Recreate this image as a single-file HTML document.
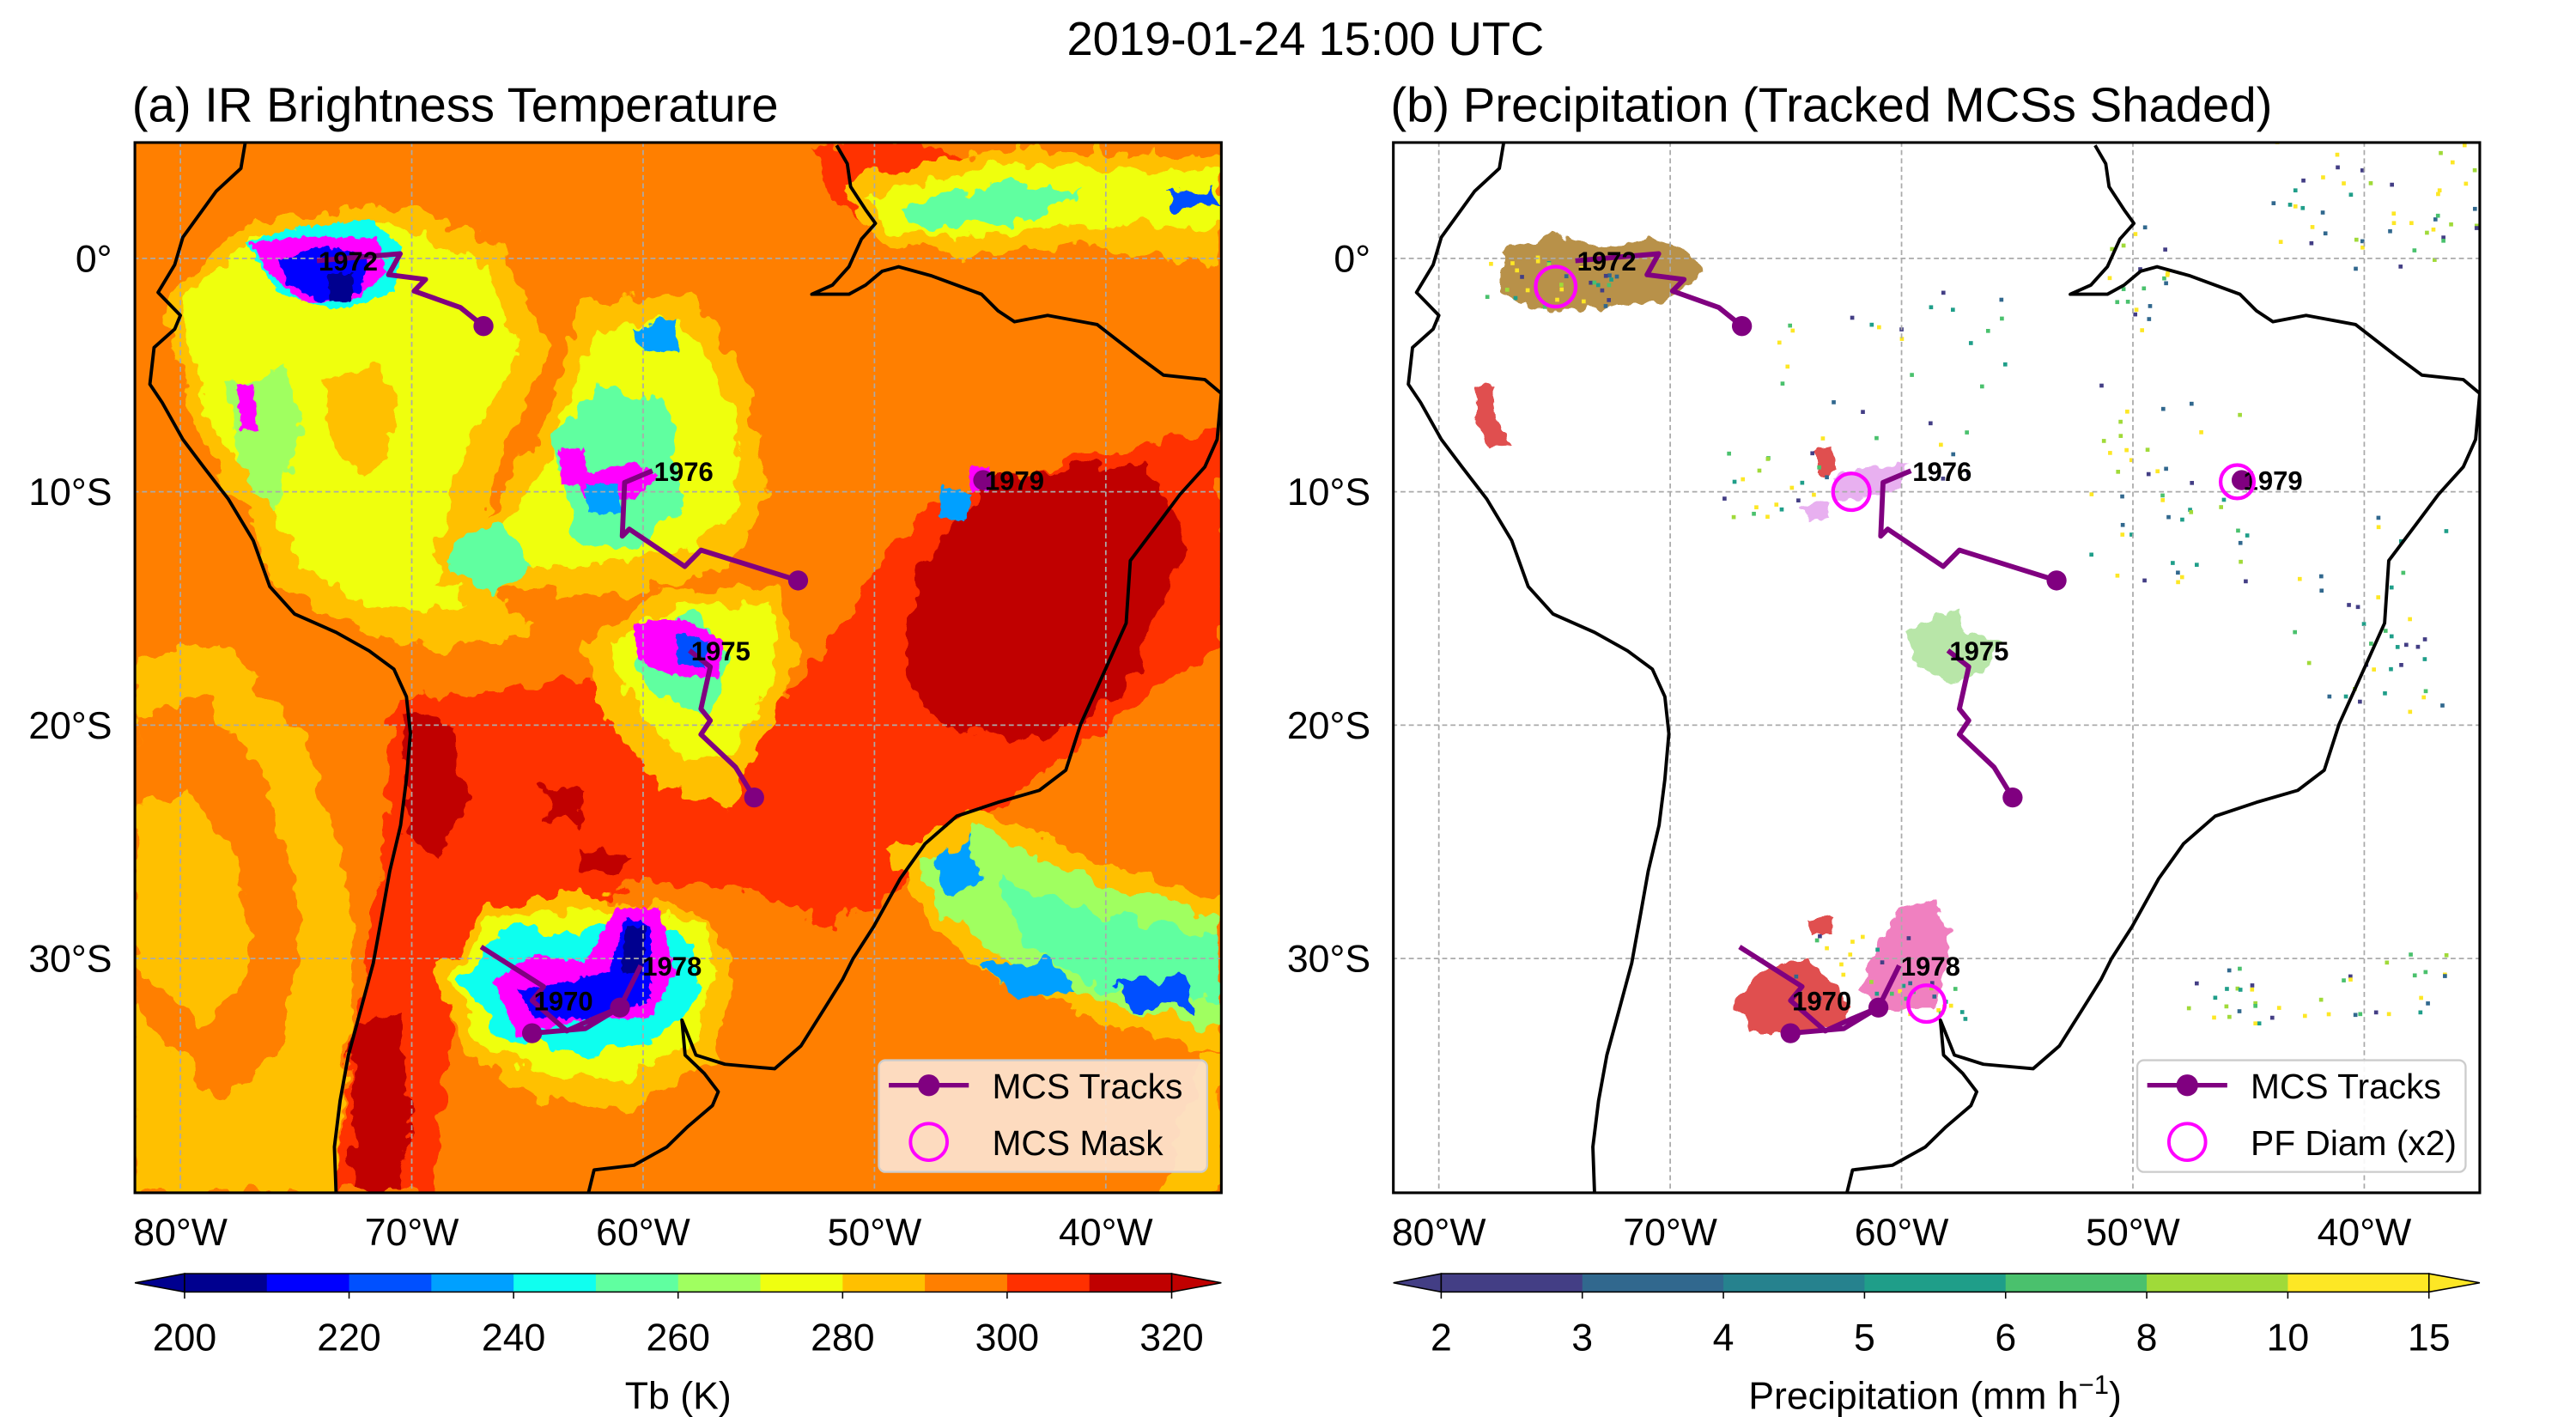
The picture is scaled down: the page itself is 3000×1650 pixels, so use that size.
<!DOCTYPE html>
<html><head><meta charset="utf-8"><style>
html,body{margin:0;padding:0;background:#fff;}
svg{display:block;font-family:"Liberation Sans",Arial,sans-serif;}
</style></head><body>
<svg id="fig" width="3000" height="1650" viewBox="0 0 1545 850" xmlns="http://www.w3.org/2000/svg">
<defs>
<clipPath id="clipL"><rect x="80.7" y="85.5" width="651.8" height="630"/></clipPath>
<clipPath id="clipR"><rect x="835.7" y="85.5" width="651.8" height="630"/></clipPath>
<filter id="rough" x="-5%" y="-5%" width="110%" height="110%">
<feTurbulence type="fractalNoise" baseFrequency="0.035" numOctaves="3" seed="4" result="n"/>
<feDisplacementMap in="SourceGraphic" in2="n" scale="34" xChannelSelector="R" yChannelSelector="G"/>
</filter>
<filter id="rough2" x="-20%" y="-20%" width="140%" height="140%">
<feTurbulence type="fractalNoise" baseFrequency="0.12" numOctaves="2" seed="7" result="n"/>
<feDisplacementMap in="SourceGraphic" in2="n" scale="9" xChannelSelector="R" yChannelSelector="G"/>
</filter>
</defs>
<text x="783" y="33" font-size="28" text-anchor="middle">2019-01-24 15:00 UTC</text>
<text x="79" y="73" font-size="29">(a) IR Brightness Temperature</text>
<text x="834" y="73" font-size="29">(b) Precipitation (Tracked MCSs Shaded)</text>

<!-- Panel A field -->
<g clip-path="url(#clipL)">
<rect x="80" y="85" width="655" height="632" fill="#ff7f00"/>
<g transform="translate(2.8,-1) scale(0.4964,0.5512)" filter="url(#rough)">
<polygon fill="#ffc000" points="157,720 260,700 360,800 410,950 420,1100 400,1300 157,1300"/>
<polygon fill="#ff7f00" points="157,780 240,760 320,860 360,1000 330,1150 260,1200 157,1100"/>
<polygon fill="#ffc000" points="157,880 220,860 280,940 300,1060 240,1120 157,1050"/>
<polygon fill="#ff3000" points="470,760 560,760 700,740 900,800 1000,700 1100,560 1300,500 1470,470 1470,700 1350,780 1200,880 1100,960 1000,1010 900,970 800,960 700,980 600,1000 540,1100 520,1300 400,1300 420,1150 455,950"/>
<polygon fill="#ff3000" points="980,160 1100,150 1200,200 1150,250 1050,240 1000,220"/>
<polygon fill="#c00000" points="1100,620 1200,520 1380,505 1430,600 1350,760 1250,810 1120,790 1090,720"/>
<polygon fill="#c00000" points="480,780 540,790 560,860 530,930 490,920"/>
<polygon fill="#c00000" points="420,1120 470,1100 490,1200 480,1300 420,1300"/>
<polygon fill="#c00000" points="650,860 700,860 690,900 660,895"/>
<polygon fill="#c00000" points="700,920 760,930 740,960 700,950"/>
<polygon fill="#ffc000" points="190,330 300,240 480,225 600,270 660,380 600,500 560,620 640,690 540,710 440,690 330,640 290,560 230,470"/>
<polygon fill="#efff10" points="210,330 300,260 470,245 580,290 620,380 560,480 520,600 560,660 460,670 360,620 310,540 250,460"/>
<polygon fill="#ffc000" points="380,420 450,400 480,470 430,520 390,480"/>
<polygon fill="#a0ff60" points="270,420 340,400 360,480 320,560 280,500"/>
<polygon fill="#ffc000" points="520,640 640,490 700,330 830,320 900,420 920,540 880,620 740,650"/>
<polygon fill="#efff10" points="560,620 660,500 710,360 820,350 880,440 890,540 840,600 720,620"/>
<polygon fill="#60ffa0" points="660,480 720,420 800,440 820,540 760,600 690,590"/>
<polygon fill="#00a0ff" points="760,360 810,350 810,390 770,390"/>
<polygon fill="#60ffa0" points="540,590 600,570 640,620 590,650 545,630"/>
<polygon fill="#ffc000" points="700,700 800,640 930,640 960,720 920,800 880,880 800,860 720,780"/>
<polygon fill="#efff10" points="730,710 810,660 920,660 930,740 880,820 820,830 760,770"/>
<polygon fill="#60ffa0" points="760,700 830,670 880,720 850,780 780,760"/>
<polygon fill="#ffc000" points="1070,930 1180,880 1320,940 1470,980 1470,1150 1350,1120 1200,1070 1120,1010"/>
<polygon fill="#a0ff60" points="1100,940 1180,900 1300,960 1470,1000 1470,1120 1350,1100 1220,1050 1140,1000"/>
<polygon fill="#60ffa0" points="1200,960 1300,990 1470,1020 1470,1090 1330,1080 1230,1030"/>
<polygon fill="#00a0ff" points="1120,930 1160,910 1180,960 1140,975"/>
<polygon fill="#00a0ff" points="1180,1050 1260,1045 1300,1080 1220,1090"/>
<polygon fill="#0050ff" points="1340,1070 1420,1065 1440,1100 1360,1100"/>
<polygon fill="#ffc000" points="1010,200 1200,165 1470,175 1470,290 1300,270 1150,280 1060,270"/>
<polygon fill="#efff10" points="1040,215 1200,180 1470,190 1470,250 1300,245 1150,260 1070,255"/>
<polygon fill="#60ffa0" points="1080,230 1200,200 1300,205 1250,240 1110,250"/>
<polygon fill="#0050ff" points="1400,210 1460,205 1465,225 1410,228"/>
<polygon fill="#ffc000" points="1450,1150 1470,1150 1470,1300 1400,1300"/>
<polygon fill="#ffc000" points="520,1060 580,990 700,970 760,980 830,990 880,1050 860,1150 760,1210 650,1200 560,1150"/>
<polygon fill="#efff10" points="540,1060 590,1000 700,990 770,990 840,1010 860,1060 830,1140 740,1180 640,1170 570,1130"/>
<polygon fill="#10ffef" points="550,1070 610,1010 700,1020 760,1000 830,1030 840,1090 790,1130 700,1150 600,1130"/>
</g>
<g transform="translate(2.8,-1) scale(0.4964,0.5512)" filter="url(#rough2)">
<polygon fill="#ff00ff" points="590,1070 640,1040 700,1050 740,990 790,990 810,1060 780,1110 700,1110 620,1130"/>
<polygon fill="#0000ff" points="620,1080 680,1070 730,1060 750,1000 780,1010 780,1090 720,1110 640,1110"/>
<polygon fill="#00008f" points="750,1010 775,1010 770,1060 745,1060"/>
<polygon fill="#10ffef" points="290,265 350,250 440,240 480,270 470,320 400,340 330,320"/>
<polygon fill="#ff00ff" points="295,265 360,260 450,260 460,300 420,330 360,330 320,300"/>
<polygon fill="#0000ff" points="330,285 380,270 440,280 430,320 380,330 340,310"/>
<polygon fill="#00008f" points="390,300 420,300 420,330 392,330"/>
<polygon fill="#ff00ff" points="280,420 300,420 305,470 285,470"/>
<polygon fill="#ff00ff" points="670,490 700,490 705,530 672,530"/>
<polygon fill="#ff00ff" points="690,520 760,505 790,520 760,545 700,545"/>
<polygon fill="#00a0ff" points="700,530 740,530 745,560 705,560"/>
<polygon fill="#ff00ff" points="760,680 820,675 870,700 860,740 800,735 765,720"/>
<polygon fill="#0050ff" points="810,690 850,700 845,730 815,725"/>
<polygon fill="#ff00ff" points="1165,510 1190,510 1192,535 1167,537"/>
<polygon fill="#00a0ff" points="1130,530 1170,540 1160,570 1130,565"/>
</g>
</g>

<!-- Panel B field -->
<g clip-path="url(#clipR)">
<rect x="835" y="85" width="655" height="632" fill="#ffffff"/>
<g id="specks"></g>
</g>
<g id="layer"></g>
</svg>
<script>
const NS="http://www.w3.org/2000/svg";
const layer=document.getElementById('layer');
// ---- data ----
const lonTicks=[-80,-70,-60,-50,-40];
const lonLabels=["80°W","70°W","60°W","50°W","40°W"];
const latTicks=[0,-10,-20,-30];
const latLabels=["0°","10°S","20°S","30°S"];
const trackIds=["1970","1972","1975","1976","1978","1979"];
const trackLon=[[-67.0,-64.3,-64.8,-63.3,-62.2,-61.0,-62.5,-64.8],[-74.1,-70.5,-71.0,-69.4,-69.9,-67.9,-66.9],[-58.0,-57.1,-57.5,-57.1,-57.5,-56.0,-55.2],[-59.6,-60.8,-60.9,-60.6,-58.2,-57.5,-53.3],[-60.1,-61.0],[-45.3]];
const trackLat=[[-29.5,-31.2,-31.8,-33.1,-32.6,-32.1,-33.0,-33.2],[-0.1,0.2,-0.7,-0.9,-1.4,-2.1,-2.9],[-16.8,-17.5,-19.3,-19.8,-20.4,-21.8,-23.1],[-9.1,-9.6,-11.9,-11.6,-13.2,-12.5,-13.8],[-30.3,-32.1],[-9.5]];
const labelLon=[-64.8,-74.1,-58.0,-59.6,-60.1,-45.3];
const labelLat=[-31.8,-0.1,-16.8,-9.1,-30.3,-9.5];
const pfLon=[-74.95,-62.17,-45.49,-58.92];
const pfLat=[-1.21,-10.0,-9.57,-31.93];
const pfRad=[12,11,10,11];
const tbTicks=[200,220,240,260,280,300,320];
const tbColors=["#00008f","#0000ff","#0050ff","#00a0ff","#10ffef","#60ffa0","#a0ff60","#efff10","#ffc000","#ff7f00","#ff3000","#c00000"];
const prTicks=["2","3","4","5","6","8","10","15"];
const prColors=["#433e85","#31688e","#26828e","#1f9e89","#4ac16d","#a0da39","#fde725"];
// ---- axes ----
function xL(lon){return 108+(lon+80)*13.88;}
function yL(lat){return 155-lat*14.0;}
function el(tag,attrs,parent){const e=document.createElementNS(NS,tag);for(const k in attrs)e.setAttribute(k,attrs[k]);(parent||layer).appendChild(e);return e;}
const OFF=755;
const specks=document.getElementById('specks');
const blobs=[
 ["#b8914a","900,150 935,140 960,148 990,143 1015,150 1020,165 1000,180 960,185 920,185 900,175"],
 ["#e8b0f0","1100,287 1120,280 1145,278 1140,292 1118,300 1100,300"],
 ["#e8b0f0","1082,305 1095,300 1098,310 1085,312"],
 ["#b8e6a8","1143,380 1160,370 1175,365 1180,380 1200,385 1190,405 1170,410 1150,400"],
 ["#e05050","1040,600 1060,580 1085,575 1100,590 1110,605 1100,618 1070,620 1050,620"],
 ["#e05050","1085,552 1100,550 1098,560 1085,560"],
 ["#f080c0","1115,595 1125,570 1140,545 1160,540 1170,560 1165,590 1160,605 1130,605"],
 ["#e05050","885,232 895,230 898,250 905,268 893,270 885,255"],
 ["#e05050","1088,270 1100,268 1102,282 1090,284"]
];
blobs.forEach((b)=>{const p=el('polygon',{points:b[1],fill:b[0],filter:'url(#rough2)'},specks);

});
const clusters=[[1410,120,60,40,40],[1300,290,50,60,45],[1420,360,50,60,25],[1130,230,80,60,35],[1400,590,70,20,30],[1330,600,25,15,10],[1280,160,20,40,20],[930,168,40,15,30],[1115,580,45,20,20],[1060,290,30,20,15],[1160,600,20,10,15],[1470,110,15,30,12],[1440,400,30,30,12]];
let s=1;function rnd(){s=(s*9301+49297)%233280;return s/233280;}
const sc=["#433e85","#31688e","#1f9e89","#4ac16d","#a0da39","#fde725","#fde725"];
clusters.forEach(c=>{for(let k=0;k<c[4];k++){const r=el('rect',{x:(c[0]+(rnd()-0.5)*2*c[2]).toFixed(1),y:(c[1]+(rnd()-0.5)*2*c[3]).toFixed(1),width:2.4,height:2.4,fill:sc[Math.floor(rnd()*sc.length)]},specks);

}});

const coastA=[[290,158],[285,185],[255,210],[215,260],[205,290],[185,320],[212,345],[205,360],[180,380],[175,420],[190,440],[215,480],[240,510],[270,545],[300,590],[320,640],[350,670],[400,690],[440,710],[470,730],[485,760],[490,800],[485,850],[478,900],[465,950],[455,1000],[445,1050],[430,1100],[415,1150],[405,1200],[398,1250],[400,1300]];
const coastB=[[705,1300],[712,1275],[760,1270],[800,1250],[825,1228],[855,1205],[862,1190],[845,1170],[822,1150],[818,1112],[835,1150],[870,1160],[930,1165],[962,1140],[990,1100],[1012,1068],[1025,1045],[1050,1010],[1082,958],[1112,920],[1150,890],[1200,875],[1250,862],[1282,840],[1300,790],[1330,730],[1355,680],[1360,612],[1395,570],[1420,540],[1450,510],[1465,480],[1470,430],[1450,415],[1400,410],[1370,390],[1320,355],[1260,345],[1220,352],[1200,340],[1180,322],[1120,302],[1080,292],[1060,297],[1040,312],[1020,322],[975,322],[1000,312],[1020,292],[1035,262],[1052,245],[1040,230],[1022,205],[1018,180],[1005,160]];
function cz(p,off){return (2.8+off+0.4964*p[0]).toFixed(1)+','+(-1+0.5512*p[1]).toFixed(1);}
function drawPanel(off,clip,pfx){
  const g=el('g',{'clip-path':'url(#'+clip+')'});
  
  
  lonTicks.forEach((lon)=>{const l=el('line',{x1:xL(lon)+off,x2:xL(lon)+off,y1:85,y2:716,stroke:'#aaaaaa','stroke-width':0.9,'stroke-dasharray':'3,2'},g);
    
    });
  latTicks.forEach((lat)=>{const l=el('line',{x1:80+off,x2:735+off,y1:yL(lat),y2:yL(lat),stroke:'#aaaaaa','stroke-width':0.9,'stroke-dasharray':'3,2'},g);
    
    });
  [coastA,coastB].forEach(c=>{const p=el('polyline',{points:c.map(q=>cz(q,off)).join(' '),fill:'none',stroke:'#000','stroke-width':2,'stroke-linejoin':'round'},g);
    
    });
  trackIds.forEach((id,i)=>{
    const pts=trackLon[i].map((lo,j)=>(xL(lo)+off).toFixed(1)+','+yL(trackLat[i][j]).toFixed(1)).join(' ');
    if(trackLon[i].length>1){const pl=el('polyline',{points:pts,fill:'none',stroke:'#800080','stroke-width':3,'stroke-linejoin':'round'},g);
      
      }
    const n=trackLon[i].length-1;
    const d=el('circle',{cx:xL(trackLon[i][n])+off,cy:yL(trackLat[i][n]),r:6,fill:'#800080'},g);
    
    
    const t=el('text',{x:xL(labelLon[i])+off+1,y:yL(labelLat[i])+6,'font-size':16,'font-weight':'bold',fill:'#000'},g);
    t.textContent=id;
    
    
  });
  if(pfx==='b'){pfLon.forEach((lo,i)=>{const c=el('circle',{cx:xL(lo)+off,cy:yL(pfLat[i]),r:pfRad[i],fill:'none',stroke:'#ff00ff','stroke-width':2.2},g);
    
    });}
  const fr=el('rect',{x:80.7+off,y:85.5,width:651.8,height:630,fill:'none',stroke:'#000','stroke-width':1.6});
  
  
  lonTicks.forEach((lon,i)=>{const t=el('text',{x:xL(lon)+off,y:747,'font-size':23,'text-anchor':'middle'});
    t.textContent=lonLabels[i];
    
    });
  latTicks.forEach((lat,i)=>{const t=el('text',{x:67+off,y:yL(lat)+8,'font-size':23,'text-anchor':'end'});
    t.textContent=latLabels[i];
    
    });
  const lx=527+off;
  const lg=el('g',{});
  
  
  el('rect',{x:lx,y:636,width:197,height:67,rx:4,fill:pfx==='a'?'#fde3cf':'#fff','fill-opacity':pfx==='a'?0.92:0.9,stroke:'#cccccc','stroke-width':1.2},lg);
  el('line',{x1:lx+6,x2:lx+54,y1:651,y2:651,stroke:'#800080','stroke-width':2.8},lg);
  el('circle',{cx:lx+30,cy:651,r:6.5,fill:'#800080'},lg);
  el('circle',{cx:lx+30,cy:685,r:11,fill:'none',stroke:'#ff00ff','stroke-width':2},lg);
  const t1=el('text',{x:lx+68,y:659,'font-size':21},lg);t1.textContent='MCS Tracks';
  const t2=el('text',{x:lx+68,y:693,'font-size':21},lg);t2.textContent=pfx==='a'?'MCS Mask':'PF Diam (x2)';
}
drawPanel(0,'clipL','a');
drawPanel(OFF,'clipR','b');
function colorbar(x0,x1,t0,t1,colors,ticks,ticksAt,label,pfx,leftC,rightC){
  const g=el('g',{});
  
  
  const w=(t1-t0)/colors.length;
  el('polygon',{points:`${x0},769.5 ${t0},764 ${t0},775`,fill:leftC,stroke:'#000','stroke-width':0.8},g);
  el('polygon',{points:`${x1},769.5 ${t1},764 ${t1},775`,fill:rightC,stroke:'#000','stroke-width':0.8},g);
  colors.forEach((c,i)=>el('rect',{x:t0+i*w,y:764,width:w+0.3,height:11,fill:c},g));
  el('rect',{x:t0,y:764,width:t1-t0,height:11,fill:'none',stroke:'#000','stroke-width':0.8},g);
  ticks.forEach((tk,i)=>{const x=t0+ticksAt[i]*(t1-t0);
    el('line',{x1:x,x2:x,y1:775,y2:779,stroke:'#000','stroke-width':0.8},g);
    const t=el('text',{x:x,y:810,'font-size':23,'text-anchor':'middle'},g);t.textContent=tk;});
  const lt=el('text',{x:(t0+t1)/2,y:845,'font-size':23,'text-anchor':'middle'},g);
  lt.innerHTML=label;
}
colorbar(80.7,732.5,110.5,702.7,tbColors,tbTicks,tbTicks.map(v=>(v-200)/120),'Tb (K)','a','#00008f','#c00000');
colorbar(835.7,1487.5,864.4,1457,prColors,prTicks,prTicks.map((v,i)=>i/7),'Precipitation (mm h<tspan dy="-9" font-size="16">−1</tspan><tspan dy="9">)</tspan>','b','#433e85','#fde725');
</script>
</body></html>
